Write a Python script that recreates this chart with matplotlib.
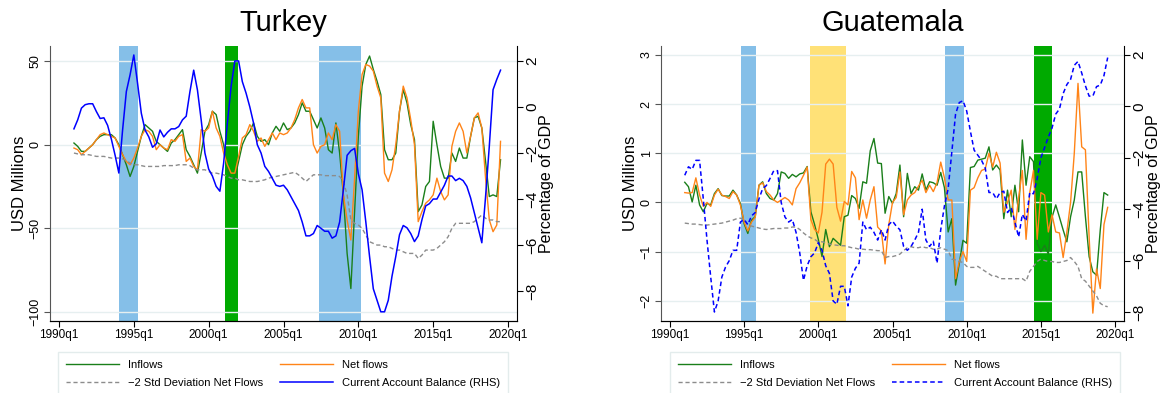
import matplotlib.pyplot as plt
import numpy as np

plt.rcParams['font.family'] = ['Liberation Sans', 'DejaVu Sans']

# quarterly data, 1991q1 .. 2019q3
start_year = 1991

tur_inflows = [1, -1, -4, -4, -2, 0, 3, 5, 6, 6, 6, 4, 0, -6, -12, -19,
               -13, -4, 5, 12, 10, 8, 2, 0, -2, -4, 1, 3, 6, 9, -3, -7,
               -12, -17, -5, 8, 12, 20, 18, 8, 0, -15, -20, -20, -10, 0, 5, 8,
               13, 5, 2, 3, 0, 7, 11, 8, 13, 9, 10, 13, 18, 25, 20, 20,
               15, 10, 16, 10, -3, -5, 13, -5, -30, -65, -86, -40, 5, 35, 48, 53,
               45, 38, 30, -3, -9, -9, -5, 20, 33, 25, 12, 3, -40, -36, -25, -22,
               14, 0, -13, -20, -20, -5, -10, -2, -8, -8, 5, 16, 17, 10, -10, -31,
               -30, -31, -9]
tur_net = [-2, -3, -6, -4, -2, 0, 3, 6, 7, 6, 5, 4, -1, -6, -10, -12,
           -8, -2, 5, 9, 8, 5, -3, 0, -2, -3, 3, 2, 5, 6, -10, -8,
           -13, -15, 9, 8, 10, 20, 10, 5, -5, -12, -17, -17, -7, 4, 6, 12,
           8, 2, 4, -1, 3, 7, 3, 7, 6, 7, 10, 15, 22, 27, 22, 22,
           0, -5, -1, 0, 7, 3, 12, 8, -30, -45, -57, -20, 20, 42, 48, 47,
           44, 35, 28, -17, -22, -15, 0, 20, 35, 28, 15, 0, -46, -40, -35, -33,
           -30, -20, -28, -33, -30, -1, 8, 13, 8, -5, 5, 16, 19, 10, -20, -45,
           -52, -48, 2]
tur_std = [-5, -5.5, -6, -6, -6, -6.5, -7, -7, -7, -7.5, -8, -8, -8, -8.5, -9.5, -11,
           -12, -12, -12.5, -13, -13, -13, -13, -13, -12.5, -12.5, -12.5, -12.5, -12, -12, -12, -12.5,
           -14, -15, -15, -15, -16, -17, -17, -17.5, -18, -19, -20, -20, -21, -21, -21.5, -22,
           -22, -22, -21.5, -21, -20, -19.5, -19, -18.5, -18, -17.5, -17, -16.5, -18, -20, -22, -20,
           -18, -18, -18, -18.5, -18.5, -18.5, -18.5, -19, -22, -30, -45, -47, -48, -50, -54, -58,
           -59, -60, -60, -61, -61, -62, -63, -63, -64, -65, -65, -65, -68, -66, -63, -63,
           -63, -62, -60, -58, -55, -50, -47, -47, -47, -47, -47, -46, -44, -42, -44, -45,
           -45, -46, -46]
tur_ca = [-0.95, -0.56, -0.05, 0.1, 0.14, 0.14, -0.2, -0.5, -0.47, -0.8, -1.4, -2.1,
          -2.87, -1.0, 0.67, 1.4, 2.26, 1.03, -0.27, -1.0, -1.3, -1.75, -1.6, -1.0,
          -1.3, -1.1, -0.95, -0.95, -0.85, -0.56, -0.4, 0.67, 1.6, 0.74, -0.56, -2.0,
          -2.7, -3.0, -3.45, -3.66, -2.44, -0.7, 0.9, 2.0, 2.0, 1.1, 0.6, 0.0,
          -0.7, -1.64, -2.0, -2.58, -2.8, -3.1, -3.4, -3.45, -3.4, -3.6, -3.9, -4.2,
          -4.5, -5.0, -5.6, -5.6, -5.5, -5.15, -5.27, -5.4, -5.4, -5.7, -5.6, -5.0,
          -3.6, -2.1, -1.9, -1.8, -2.9, -3.6, -5.0, -6.5, -7.9, -8.4, -8.9, -8.9,
          -8.4, -7.35, -6.5, -5.55, -5.15, -5.25, -5.5, -5.85, -5.6, -4.9, -4.3, -4.2,
          -4.0, -4.0, -3.7, -3.4, -3.0, -3.0, -3.2, -3.1, -3.2, -3.45, -3.95, -4.6,
          -5.25, -5.9, -3.9, -1.7, 0.75, 1.2, 1.6]

gtm_inflows = [0.41, 0.32, 0.01, 0.35, -0.05, -0.19, -0.02, -0.05, 0.18, 0.28, 0.14, 0.13,
               0.13, 0.25, 0.15, -0.02, -0.43, -0.63, -0.36, -0.29, 0.35, 0.42, 0.18, 0.08,
               0.05, 0.18, 0.62, 0.59, 0.49, 0.57, 0.52, 0.58, 0.6, 0.73, -0.19, -0.45,
               -0.75, -1.1, -0.55, -0.9, -0.73, -0.8, -0.87, -0.29, -0.26, 0.14, 0.08, -0.12,
               0.42, 0.39, 1.05, 1.3, 0.8, 0.79, -0.22, 0.12, -0.02, 0.18, 0.76, -0.29,
               0.59, 0.18, 0.32, 0.25, 0.58, 0.25, 0.42, 0.4, 0.35, 0.61, 0.3, -0.6,
               -0.33, -1.68, -1.24, -0.77, -0.83, 0.71, 0.73, 0.86, 0.88, 0.9, 1.13, 0.66,
               0.76, 0.66, -0.33, 0.25, -0.29, 0.35, -0.19, 1.27, 0.35, 0.93, 0.83, -0.83,
               -1.0, -0.87, -1.05, -0.3, -0.05, -0.3, -0.56, -0.8, -0.29, 0.05, 0.62, 0.62,
               -0.29, -1.1, -1.41, -1.48, -0.56, 0.2, 0.15]
gtm_net = [0.2, 0.19, 0.2, 0.5, 0.15, -0.08, 0.0, -0.08, 0.15, 0.27, 0.15, 0.12,
           0.08, 0.22, 0.15, -0.05, -0.4, -0.58, -0.4, -0.3, 0.35, 0.4, 0.22, 0.15,
           0.05, 0.0, 0.05, 0.1, 0.05, -0.05, 0.28, 0.4, 0.55, 0.72, -0.35, -0.55,
           -0.62, -0.2, 0.78, 0.88, 0.78, -0.1, -0.38, 0.02, -0.05, 0.63, 0.5, -0.35,
           0.05, -0.32, 0.05, 0.32, -0.5, -0.58, -1.25, -0.45, 0.0, 0.1, 0.62, -0.25,
           0.05, 0.15, 0.2, 0.33, 0.45, 0.2, 0.35, 0.22, 0.4, 0.82, 0.5, 0.05,
           0.05, -1.55, -1.2, -1.0, -1.2, 0.25, 0.3, 0.5, 0.65, 0.68, 1.0, 0.72,
           1.02, 0.8, -0.2, 0.0, 0.25, -0.55, 0.1, 0.65, -0.75, 0.2, 0.65, -0.75,
           0.2, 0.15, -0.6, -0.25, -0.6, -0.62, -1.12, -0.6, 0.0, 1.0, 2.42, 1.13,
           1.07, -0.7, -2.25, -1.35, -1.75, -0.45, -0.1]
gtm_std = [-0.42, -0.43, -0.44, -0.44, -0.45, -0.46, -0.46, -0.45, -0.44, -0.43, -0.42, -0.4,
           -0.38, -0.36, -0.33, -0.32, -0.35, -0.46, -0.48, -0.5, -0.52, -0.54, -0.55, -0.54,
           -0.53, -0.53, -0.53, -0.52, -0.52, -0.5, -0.5, -0.55, -0.62, -0.68, -0.72, -0.75,
           -0.8, -0.8, -0.82, -0.85, -0.86, -0.87, -0.88, -0.88, -0.9, -0.92, -0.93, -0.95,
           -0.95, -0.96, -0.96, -0.97, -0.98, -0.98, -1.12, -1.1, -1.1, -1.08, -1.05, -0.98,
           -0.92, -0.9, -0.92, -0.92, -0.9, -0.92, -0.92, -0.95, -0.95, -0.92, -0.95, -0.98,
           -1.15, -1.17, -1.2, -1.22, -1.3, -1.32, -1.32, -1.3, -1.35, -1.4, -1.45, -1.5,
           -1.5, -1.55, -1.55, -1.55, -1.55, -1.55, -1.55, -1.55, -1.6, -1.4, -1.3, -1.2,
           -1.15, -1.18, -1.2, -1.2, -1.22, -1.22, -1.2, -1.18, -1.12, -1.2, -1.3, -1.55,
           -1.6, -1.7, -1.8, -1.9, -2.05, -2.1, -2.12]
gtm_ca = [-2.68, -2.35, -2.45, -2.1, -2.1, -3.6, -5.2, -6.64, -8.0, -7.57, -6.64, -6.25,
          -6.0, -5.6, -5.6, -4.5, -4.4, -4.6, -4.26, -4.13, -3.6, -3.2, -3.08, -2.8,
          -2.5, -2.5, -3.74, -4.3, -4.5, -4.4, -4.9, -5.7, -6.77, -6.2, -5.85, -5.7,
          -5.3, -5.6, -6.2, -6.5, -7.57, -7.7, -7.0, -7.0, -7.76, -6.64, -6.3, -6.1,
          -4.5, -4.8, -4.7, -4.9, -5.2, -4.8, -5.2, -4.6, -4.46, -4.66, -4.8, -5.45,
          -5.6, -5.45, -5.2, -4.9, -4.0, -5.2, -5.45, -5.25, -6.1, -4.8, -3.87, -3.2,
          -1.76, -0.3, 0.15, 0.22, -0.18, -0.97, -1.7, -1.9, -2.1, -2.4, -3.35, -3.35,
          -3.6, -3.35, -3.3, -4.13, -3.94, -4.5, -5.08, -4.2, -4.46, -3.35, -3.4, -2.8,
          -2.0, -1.6, -1.2, -0.84, -0.3, -0.1, 0.5, 0.85, 1.05, 1.6, 1.75, 1.3,
          0.8, 0.4, 0.4, 0.77, 0.83, 1.2, 1.9]

# shaded episodes (start, end, kind)
tur_episodes = [(1994.0, 1995.25, 'blue'), (2001.06, 2001.96, 'green'), (2007.38, 2010.17, 'blue')]
gtm_episodes = [(1994.82, 1995.77, 'blue'), (1999.42, 2001.9, 'yellow'),
                (2008.54, 2009.79, 'blue'), (2014.53, 2015.78, 'green')]

shade = {'blue': '#85BFE8', 'green': '#00AA00', 'yellow': '#FFE177'}
c_in, c_net, c_std, c_ca = '#1A7F1A', '#FF8418', '#8C8C8C', '#0000FF'
grid_c = '#E6EFF0'

xticks = [1990, 1995, 2000, 2005, 2010, 2015, 2020]
xlabels = [f'{y}q1' for y in xticks]


def panel(rect, title, inflows, net, std, ca, episodes, ylim, yticks, ylim2, ca_style, leg_left):
    ax = fig.add_axes(rect)
    n = len(inflows)
    t = start_year + np.arange(n) / 4
    for a, b, k in episodes:
        ax.axvspan(a, b, color=shade[k], lw=0, zorder=0)
    for y in yticks:
        ax.axhline(y, color=grid_c, lw=1, zorder=0.5)
    l1, = ax.plot(t, inflows, color=c_in, lw=1.0, label='Inflows', zorder=3)
    l2, = ax.plot(t, net, color=c_net, lw=1.0, label='Net flows', zorder=3)
    l3, = ax.plot(t, std, color=c_std, lw=1.0, ls=(0, (3, 2)), label='\u22122 Std Deviation Net Flows', zorder=3)
    ax.set_xlim(1989.4, 2020.6)
    ax.set_ylim(*ylim)
    ax.set_yticks(yticks)
    ax.set_xticks(xticks)
    ax.set_xticklabels(xlabels, fontsize=8.5)
    ax.tick_params(axis='y', labelsize=9, labelrotation=90, length=4, pad=2, color='#555555')
    ax.tick_params(axis='x', length=4, pad=2)
    for lab in ax.get_yticklabels():
        lab.set_va('center')
    ax.set_ylabel('USD Millions', fontsize=12, labelpad=2)
    ax.spines['top'].set_visible(False)
    ax.spines['right'].set_visible(False)
    ax.spines['left'].set_color('#555555')
    ax.set_title(title, fontsize=21, pad=11)

    ax2 = ax.twinx()
    l4, = ax2.plot(t, ca, color=c_ca, lw=1.1, ls=ca_style, label='Current Account Balance (RHS)')
    ax2.set_ylim(*ylim2)
    ax2.set_yticks([2, 0, -2, -4, -6, -8])
    ax2.tick_params(axis='y', labelsize=11, labelrotation=90, length=4, pad=2)
    for lab in ax2.get_yticklabels():
        lab.set_va('center')
    ax2.set_ylabel('Percentage of GDP', fontsize=11.5, labelpad=0)
    ax2.spines['top'].set_visible(False)
    ax2.spines['left'].set_visible(False)

    leg = fig.legend(handles=[l1, l3, l2, l4], ncol=2, loc='upper left',
                     bbox_to_anchor=(leg_left, 0, 450 / 1164, 41 / 393),
                     mode='expand', fontsize=8, handlelength=4.8, frameon=True,
                     fancybox=False, borderaxespad=0, labelspacing=0.7,
                     borderpad=0.7)
    leg.get_frame().set_edgecolor('#DDE8E8')
    leg.get_frame().set_linewidth(1)


fig = plt.figure(figsize=(11.64, 3.93), dpi=100)

panel([50 / 1164, 72 / 393, 467 / 1164, 275 / 393], 'Turkey',
      tur_inflows, tur_net, tur_std, tur_ca, tur_episodes,
      (-105.4, 59), [50, 0, -50, -100], (-9.3, 2.65), '-', 58 / 1164)
panel([661 / 1164, 72 / 393, 463 / 1164, 275 / 393], 'Guatemala',
      gtm_inflows, gtm_net, gtm_std, gtm_ca, gtm_episodes,
      (-2.41, 3.18), [3, 2, 1, 0, -1, -2], (-8.35, 2.35), (0, (3, 2)), 670 / 1164)

fig.savefig('out.png', dpi=100)
